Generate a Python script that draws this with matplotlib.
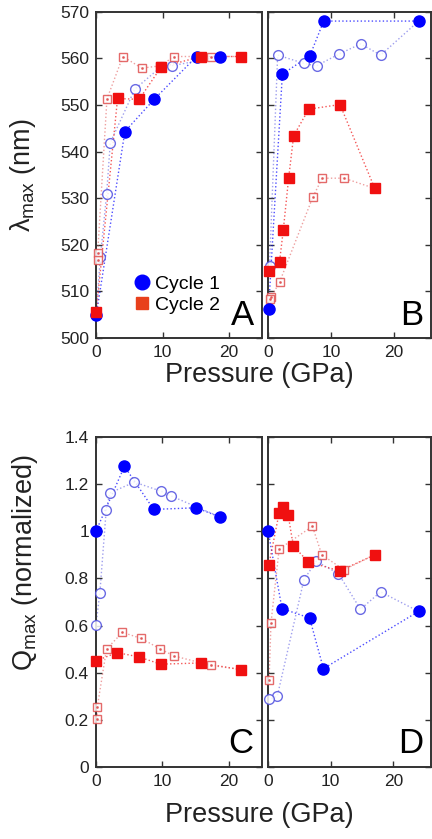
import numpy as np
import matplotlib
matplotlib.use("Agg")
import matplotlib.pyplot as plt
from matplotlib.lines import Line2D

plt.rcParams['font.family'] = ['Liberation Sans', 'DejaVu Sans']
plt.rcParams['mathtext.fontset'] = 'custom'
plt.rcParams['mathtext.rm'] = 'Liberation Sans'
plt.rcParams['mathtext.it'] = 'Liberation Sans'

# run 1 (panels A, C)
p1_c1_up = [0.0, 4.3, 8.7, 15.1, 18.7]
lam1_c1_up = [505.0, 544.3, 551.2, 560.4, 560.4]
q1_c1_up = [1.0, 1.276, 1.093, 1.10, 1.061]
p1_c1_dn = [11.35, 9.75, 5.8, 2.1, 1.55, 0.6, 0.0]
lam1_c1_dn = [558.4, 558.2, 553.4, 541.9, 530.9, 517.3, 505.5]
q1_c1_dn = [1.15, 1.171, 1.209, 1.163, 1.089, 0.74, 0.601]
p1_c2_up = [0.0, 3.2, 6.45, 9.75, 15.8, 21.85]
lam1_c2_up = [505.7, 551.4, 551.2, 558.1, 560.4, 560.4]
q1_c2_up = [0.45, 0.485, 0.467, 0.436, 0.441, 0.413]
p1_c2_dn = [17.3, 11.75, 9.6, 6.85, 4.0, 1.6, 0.2, 0.2]
lam1_c2_dn = [560.4, 560.4, 558.4, 557.9, 560.4, 551.3, 518.2, 516.8]
q1_c2_dn = [0.431, 0.471, 0.502, 0.545, 0.571, 0.50, 0.252, 0.202]

# run 2 (panels B, D)
p2_c1_up = [0.05, 2.25, 6.65, 8.85, 24.0]
lam2_c1_up = [506.3, 556.6, 560.6, 568.0, 568.0]
q2_c1_up = [1.0, 0.672, 0.632, 0.417, 0.66]
p2_c1_dn = [17.95, 14.75, 11.25, 7.7, 5.75, 1.5, 0.2]
lam2_c1_dn = [560.7, 563.1, 560.9, 558.4, 558.9, 560.7, 515.4]
q2_c1_dn = [0.743, 0.669, 0.82, 0.873, 0.795, 0.30, 0.286]
p2_c2_up = [0.15, 1.8, 2.4, 3.25, 4.05, 6.45, 11.45, 17.0]
lam2_c2_up = [514.5, 516.4, 523.2, 534.3, 543.4, 549.1, 550.1, 532.1]
q2_c2_up = [0.856, 1.078, 1.103, 1.068, 0.938, 0.87, 0.832, 0.90]
p2_c2_dn = [12.1, 8.6, 7.1, 1.8, 0.5, 0.2]
lam2_c2_dn = [534.3, 534.3, 530.2, 512.0, 508.9, 508.4]
q2_c2_dn = [0.837, 0.90, 1.021, 0.925, 0.611, 0.37]

BLUE = '#0000ff'
RED = '#f01010'


def draw(ax, up_p, up_y, dn_p, dn_y, col, open_col, marker, ms, ms_open):
    # compression run: filled markers
    ax.plot(up_p, up_y, ':', color=col, lw=1.0, alpha=0.7, clip_on=False)
    # decompression run starts from the last compression point
    ax.plot([up_p[-1]] + dn_p, [up_y[-1]] + dn_y, ':', color=open_col, lw=1.0,
            alpha=0.55, clip_on=False)
    ax.plot(dn_p, dn_y, marker, ls='none', mfc='white', mec=open_col, mew=1.0,
            ms=ms_open, alpha=0.85, clip_on=False, zorder=3)
    if marker == 's':
        ax.plot(dn_p, dn_y, '.', ls='none', color=open_col, ms=2, alpha=0.8,
                clip_on=False, zorder=3)
    ax.plot(up_p, up_y, marker, ls='none', mfc=col, mec=col, ms=ms,
            clip_on=False, zorder=4)


fig = plt.figure(figsize=(4.32, 8.39), dpi=100)
axA = fig.add_axes([0.223, 0.597, 0.384, 0.389])
axB = fig.add_axes([0.621, 0.597, 0.377, 0.389])
axC = fig.add_axes([0.222, 0.086, 0.384, 0.393])
axD = fig.add_axes([0.620, 0.086, 0.378, 0.393])

draw(axA, p1_c1_up, lam1_c1_up, p1_c1_dn, lam1_c1_dn, BLUE, '#5050e0', 'o', 8, 7)
draw(axA, p1_c2_up, lam1_c2_up, p1_c2_dn, lam1_c2_dn, RED, '#e05050', 's', 7, 6)
draw(axB, p2_c1_up, lam2_c1_up, p2_c1_dn, lam2_c1_dn, BLUE, '#5050e0', 'o', 8, 7)
draw(axB, p2_c2_up, lam2_c2_up, p2_c2_dn, lam2_c2_dn, RED, '#e05050', 's', 7, 6)
draw(axC, p1_c1_up, q1_c1_up, p1_c1_dn, q1_c1_dn, BLUE, '#5050e0', 'o', 8, 7)
draw(axC, p1_c2_up, q1_c2_up, p1_c2_dn, q1_c2_dn, RED, '#e05050', 's', 7, 6)
draw(axD, p2_c1_up, q2_c1_up, p2_c1_dn, q2_c1_dn, BLUE, '#5050e0', 'o', 8, 7)
draw(axD, p2_c2_up, q2_c2_up, p2_c2_dn, q2_c2_dn, RED, '#e05050', 's', 7, 6)

for ax, letter in zip([axA, axB, axC, axD], 'ABCD'):
    for s in ax.spines.values():
        s.set_linewidth(1.4)
        s.set_color('#333333')
    ax.tick_params(direction='in', top=True, right=True, length=4, width=1,
                   labelsize=12.5, colors='#333333', labelcolor='#222222', pad=5)
    ax.set_xticks([0, 10, 20])
    ax.text(0.95, 0.02, letter, transform=ax.transAxes, ha='right',
            va='bottom', fontsize=25)

for ax in [axA, axB]:
    ax.set_ylim(500, 570)
    ax.set_yticks(np.arange(500, 571, 10))
for ax in [axC, axD]:
    ax.set_ylim(0, 1.4)
    ax.set_yticks([0, 0.2, 0.4, 0.6, 0.8, 1.0, 1.2, 1.4])
axC.set_yticklabels(['0', '0.2', '0.4', '0.6', '0.8', '1', '1.2', '1.4'])
axB.set_yticklabels([])
axD.set_yticklabels([])
axA.set_xlim(0, 25)
axC.set_xlim(0, 25)
axB.set_xlim(0, 26)
axD.set_xlim(0, 26)

axA.set_ylabel(r'$\lambda_{\rm max}$ (nm)', fontsize=19.5, color='#222222')
axA.yaxis.set_label_coords(-0.35, 0.5)
axC.set_ylabel(r'$\rm Q_{max}$ (normalized)', fontsize=19.5, color='#222222')
axC.yaxis.set_label_coords(-0.34, 0.62)
fig.text(0.60, 0.553, 'Pressure (GPa)', ha='center', va='center',
         fontsize=19.5, color='#222222')
fig.text(0.60, 0.029, 'Pressure (GPa)', ha='center', va='center',
         fontsize=19.5, color='#222222')

handles = [Line2D([], [], marker='o', ls='none', color=BLUE, ms=10.5),
           Line2D([], [], marker='s', ls='none', color='#e8401c', ms=9)]
axA.legend(handles, ['Cycle 1', 'Cycle 2'], loc='lower left',
           bbox_to_anchor=(0.12, 0.02), frameon=False, fontsize=14,
           handlelength=0.8, handletextpad=0.3, labelspacing=0.2)

fig.savefig('out.png', dpi=100)
